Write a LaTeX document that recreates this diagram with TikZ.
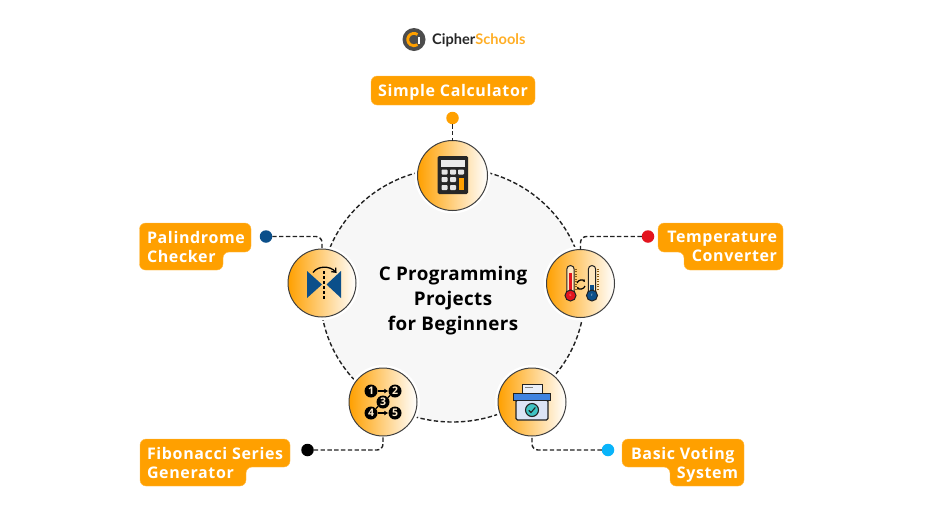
\documentclass[tikz,border=0pt]{standalone}
\usepackage{fontspec}
\setmainfont{Open Sans}
\newfontfamily\labfont[LetterSpace=4]{Open Sans}
\newfontfamily\titlefont[LetterSpace=2]{Open Sans}
\newfontfamily\logofont{Lato}
\usetikzlibrary{arrows.meta,shapes.geometric}
\definecolor{brand}{HTML}{FFA000}
\definecolor{ringfill}{HTML}{F7F7F7}
\definecolor{ink}{HTML}{222222}
\definecolor{pblue}{HTML}{0B4F8A}
\definecolor{tred}{HTML}{E3141E}
\definecolor{sky}{HTML}{0AB4FA}
\definecolor{lidblue}{HTML}{3F83E0}
\definecolor{boxpale}{HTML}{DCE4F5}
\definecolor{teal2}{HTML}{3FC3C3}
\definecolor{tickbrown}{HTML}{8A5A10}
\tikzset{
  iconbox/.style={circle,minimum size=68pt,inner sep=0pt,outer sep=0pt,draw=black!75,line width=1pt,
    left color=brand,right color=white,preaction={draw=white,line width=6pt}},
  linkdash/.style={draw=ink,line width=1.4pt,dash pattern=on 4.4pt off 2.4pt,rounded corners=6pt},
  enddot/.style={circle,minimum size=12.5pt,inner sep=0pt,outer sep=0pt,fill=#1},
  labelshape/.style={fill=brand,draw=brand!70!white,line width=.4pt,rounded corners=6pt},
  labeltext/.style={inner sep=0pt,outer sep=0pt,text=white,font=\labfont\bfseries\fontsize{16}{19}\selectfont},
  titletext/.style={inner sep=0pt,align=center,text=black,font=\titlefont\bfseries\fontsize{18.8}{25}\selectfont},
  fibnum/.style={circle,minimum size=13pt,inner sep=0pt,fill=black,text=brand!20!white,font=\bfseries\fontsize{10.5}{11}\selectfont},
  fiblink/.style={draw=black,line width=1.2pt},
  fibhead/.style={-{Latex[length=4pt,width=5pt]}},
  tube/.style={draw=ink,line width=1pt,fill=brand!25!white},
  bulb/.style={circle,minimum size=11pt,inner sep=0pt,draw=ink,line width=1pt,text=white,font=\fontsize{3}{3}\selectfont},
  btn/.style={fill=black!10,rounded corners=.8pt},
}
\begin{document}
\begin{tikzpicture}[x=1pt,y=-1pt]
\useasboundingbox (0,0) rectangle (925,520);
% logo
\node[circle,minimum size=23pt,inner sep=0pt,fill=black!70] (logomark) at (414,39.5) {};
\draw[brand,line width=2.8pt] (417.5,34.5) arc[start angle=55,end angle=305,radius=6.2pt];
\fill[white] (418,36.5) rectangle (419.5,43.5);
\node[anchor=west,inner sep=0pt,font=\logofont\bfseries\fontsize{14.6}{16}\selectfont] (logotext) at (432,40.5) {\textcolor{black!85}{Cipher}\textcolor{brand!85!white}{Schools}};
% ring
\node[ellipse,minimum width=264pt,minimum height=254pt,inner sep=0pt,fill=ringfill,draw=ink,line width=1.4pt,dash pattern=on 4.4pt off 2.4pt] (ring) at (452.5,295) {};
\node[titletext] (title) at (453,301) {C Programming\\Projects\\for Beginners};
% icon circles
\node[iconbox,minimum size=70pt] (calc) at (452.5,175.5) {};
\node[iconbox] (palin) at (322,283) {};
\node[iconbox] (temp) at (580.5,283.5) {};
\node[iconbox] (fib) at (383,402) {};
\node[iconbox] (vote) at (532,402) {};
% labels
\path[labelshape] (371,76) -- (535,76) -- (535,105) -- (371,105) -- cycle;
\node[labeltext] (lcalc) at (453,92.5) {Simple Calculator};
\path[labelshape] (139.5,223) -- (251,223) -- (251,252) -- (223,252) -- (223,270) -- (139.5,270) -- cycle;
\node[labeltext,anchor=north west,align=left] (lpalin) at (147,231.5) {Palindrome\\Checker};
\path[labelshape] (658,223) -- (783,223) -- (783,270) -- (684,270) -- (684,252) -- (658,252) -- cycle;
\node[labeltext,anchor=north east,align=right] (ltemp) at (777,231.5) {Temperature\\Converter};
\path[labelshape] (140,439) -- (290,439) -- (290,467) -- (246,467) -- (246,486) -- (140,486) -- cycle;
\node[labeltext,anchor=north west,align=left] (lfib) at (147,447.5) {Fibonacci Series\\Generator};
\path[labelshape] (622,439) -- (744,439) -- (744,486) -- (670,486) -- (670,467) -- (622,467) -- cycle;
\node[labeltext,anchor=north east,align=right] (lvote) at (738,447.5) {Basic Voting\kern3.5pt\null\\System};
% dots
\node[enddot=brand] (dcalc) at (452.5,118) {};
\node[enddot=pblue] (dpalin) at (266,236.5) {};
\node[enddot=tred] (dtemp) at (648,236.5) {};
\node[enddot=black] (dfib) at (307.5,450) {};
\node[enddot=sky] (dvote) at (608,450) {};
% connectors
\draw[linkdash] (dcalc.south) -- (calc.north);
\draw[linkdash] (dpalin.east) -| (palin.north);
\draw[linkdash] (dtemp.west) -| (temp.north);
\draw[linkdash] (dfib.east) -| (fib.south);
\draw[linkdash] (dvote.west) -| (vote.south);
% calculator icon
\fill[black!85,rounded corners=1.5pt] (437.5,156) rectangle (468,194);
\fill[black!8] (441,160) rectangle (465,166.5);
\foreach \x in {444.5,453,461} \fill[btn] (\x-3,169.5) rectangle (\x+3,174.5);
\foreach \x in {444.5,453} {\fill[btn] (\x-3,177) rectangle (\x+3,182);
  \fill[btn] (\x-3,185) rectangle (\x+3,190);}
\fill[brand] (458.5,177.5) rectangle (463.5,190);
% palindrome icon
\fill[pblue] (307,271) -- (322,284.5) -- (307,298) -- cycle;
\fill[pblue] (341,271) -- (326.5,284.5) -- (341,298) -- cycle;
\draw[black,line width=1.2pt,dash pattern=on 3pt off 2pt] (324,271) -- (324,299);
\draw[black,line width=1.3pt,-{Straight Barb[length=3.5pt,width=6pt]}] (313,272.5) .. controls (318,265.5) and (330,265.5) .. (336.5,273);
% thermometer icon
\foreach \x in {575.3,597.3} \foreach \y in {269,271.5,...,289} \draw[tickbrown,line width=.5pt] (\x,\y) -- (\x+1.5,\y);
\draw[tube] (566.8,296) -- (566.8,269.2) arc[start angle=180,end angle=0,radius=3.7pt] -- (574.2,296) -- cycle;
\fill[tred] (568.8,273) rectangle (572.2,294);
\node[bulb,fill=tred] (bulbc) at (570.5,295.5) {C};
\draw[tube] (588.3,296) -- (588.3,269.2) arc[start angle=180,end angle=0,radius=3.7pt] -- (595.7,296) -- cycle;
\fill[pblue] (590.3,285) rectangle (593.7,294);
\node[bulb,fill=pblue] (bulbf) at (592,295.5) {F};
\draw[black,line width=1.2pt,-{Latex[length=2.4pt,width=3pt]}] (577,283) .. controls (578,279.5) and (583,279.5) .. (585,282);
\draw[black,line width=1.2pt,-{Latex[length=2.4pt,width=3pt]}] (585,286) .. controls (584,289.5) and (579,289.5) .. (577,287);
% fibonacci icon
\node[fibnum] (n1) at (371,391) {1};
\node[fibnum] (n2) at (395,391) {2};
\node[fibnum] (n3) at (383,402) {3};
\node[fibnum] (n4) at (371,413) {4};
\node[fibnum] (n5) at (395,413) {5};
\draw[fiblink,fibhead] (n1) -- (n2);
\draw[fiblink,fibhead] (n4) -- (n5);
\draw[fiblink] (n2) -- (n3);
\draw[fiblink] (n3) -- (n4);
% voting icon
\draw[draw=ink,line width=1pt,fill=boxpale!60!white] (522,384) rectangle (542,393);
\draw[black!50,line width=.7pt] (525,387.5) -- (533,387.5);
\draw[draw=ink,line width=1.1pt,fill=boxpale,rounded corners=1.5pt] (516,400) rectangle (548,420);
\draw[draw=ink,line width=1pt,fill=lidblue] (513.5,393.5) rectangle (550,400);
\node[circle,minimum size=13pt,inner sep=0pt,fill=teal2,draw=ink,line width=1.1pt] (check) at (532,410) {};
\draw[ink,line width=1.1pt] (528.8,410.3) -- (531,412.5) -- (535.3,407.5);
\end{tikzpicture}
\end{document}
